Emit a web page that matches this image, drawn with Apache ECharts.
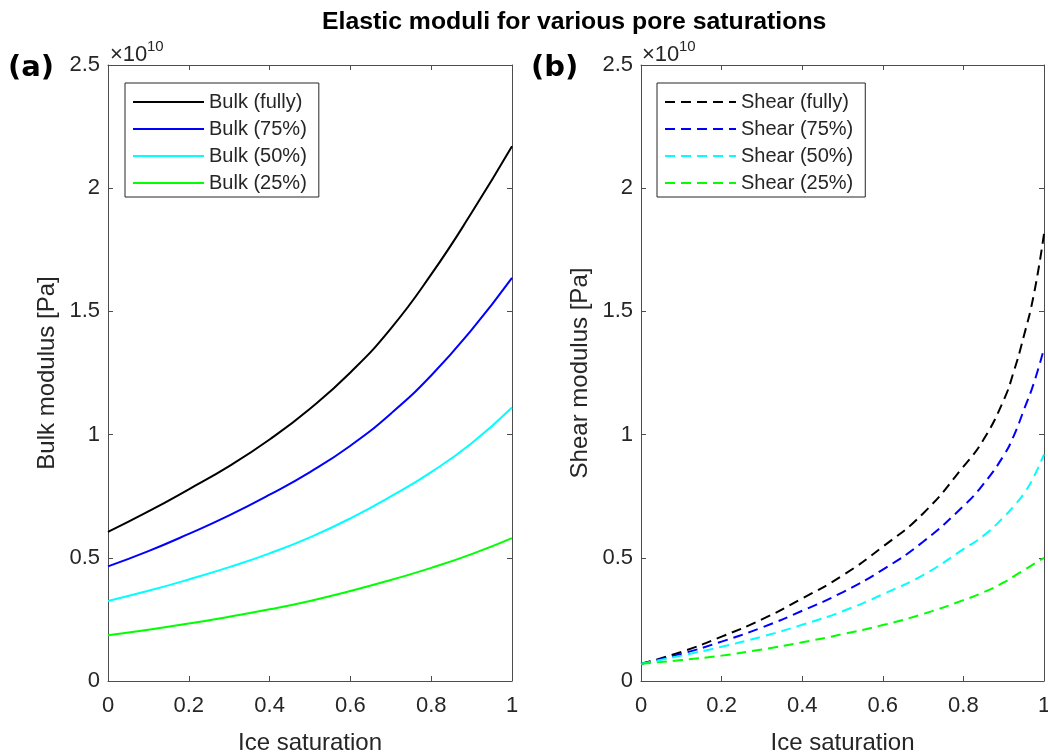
<!DOCTYPE html>
<html>
<head>
<meta charset="utf-8">
<script src="https://cdn.jsdelivr.net/npm/echarts@6/dist/echarts.min.js"></script>
<style>html,body{margin:0;padding:0;background:#fff}#c{width:1048px;height:753px}</style>
</head>
<body>
<div id="c"></div>
<script>
// values in units of 1e10 Pa
const satBulk = [0, 0.1, 0.2, 0.3, 0.4, 0.5, 0.6, 0.7, 0.8, 0.9, 1.0];
const bulkFully = [0.605, 0.688, 0.778, 0.872, 0.980, 1.105, 1.252, 1.43, 1.65, 1.90, 2.17];
const bulk75    = [0.465, 0.527, 0.597, 0.672, 0.756, 0.848, 0.955, 1.085, 1.24, 1.425, 1.636];
const bulk50    = [0.325, 0.366, 0.412, 0.462, 0.518, 0.583, 0.660, 0.749, 0.848, 0.965, 1.11];
const bulk25    = [0.186, 0.208, 0.233, 0.261, 0.291, 0.325, 0.365, 0.410, 0.459, 0.515, 0.58];

const satShear = [0, 0.1, 0.2, 0.3, 0.4, 0.5, 0.6, 0.7, 0.8, 0.85, 0.9, 0.925, 0.95, 0.975, 1.0];
const shearFully = [0.07, 0.118, 0.18, 0.25, 0.335, 0.428, 0.545, 0.68, 0.87, 0.98, 1.14, 1.256, 1.40, 1.57, 1.815];
const shear75    = [0.07, 0.11, 0.16, 0.217, 0.285, 0.36, 0.452, 0.565, 0.71, 0.80, 0.915, 0.995, 1.10, 1.21, 1.35];
const shear50    = [0.07, 0.103, 0.139, 0.18, 0.228, 0.283, 0.352, 0.43, 0.535, 0.59, 0.665, 0.71, 0.76, 0.83, 0.92];
const shear25    = [0.07, 0.085, 0.103, 0.128, 0.157, 0.19, 0.227, 0.272, 0.328, 0.36, 0.40, 0.425, 0.45, 0.475, 0.50];

const bulkNames  = ['Bulk (fully)', 'Bulk (75%)', 'Bulk (50%)', 'Bulk (25%)'];
const shearNames = ['Shear (fully)', 'Shear (75%)', 'Shear (50%)', 'Shear (25%)'];
const colors = ['#000000', '#0000ff', '#00ffff', '#00ff00'];
const SCALE = 1e10;

const FONT = 'Liberation Sans, Arial, sans-serif';
const AX = '#262626';
const LINE = '#4d4d4d';

function pairs(xs, ys) { return xs.map((x, i) => [x, ys[i] * SCALE]); }

const grids = [
  { left: 108, top: 65, width: 404, height: 616, outerBoundsMode: 'none', containLabel: false },
  { left: 641, top: 65, width: 403, height: 616, outerBoundsMode: 'none', containLabel: false }
];

function xAxisMain(gi) {
  return {
    type: 'value', gridIndex: gi, min: 0, max: 1, interval: 0.2, position: 'bottom',
    name: 'Ice saturation', nameLocation: 'middle', nameGap: 50,
    nameTextStyle: { fontFamily: FONT, fontSize: 24, color: AX },
    axisLine: { show: true, onZero: false, lineStyle: { color: LINE, width: 1 } },
    axisTick: { show: true, inside: true, length: 5, lineStyle: { color: LINE } },
    axisLabel: { fontFamily: FONT, fontSize: 22, lineHeight: 22, color: AX, margin: 14,
      formatter: v => String(+v.toFixed(1)) },
    splitLine: { show: false }
  };
}
function xAxisTop(gi) {
  return {
    type: 'value', gridIndex: gi, min: 0, max: 1, interval: 0.2, position: 'top',
    axisLine: { show: true, onZero: false, lineStyle: { color: LINE, width: 1 } },
    axisTick: { show: true, inside: true, length: 5, lineStyle: { color: LINE } },
    axisLabel: { show: false }, splitLine: { show: false }
  };
}
function yAxisMain(gi, name) {
  return {
    type: 'value', gridIndex: gi, min: 0, max: 2.5 * SCALE, interval: 0.5 * SCALE, position: 'left',
    name: name, nameLocation: 'middle', nameGap: 49,
    nameTextStyle: { fontFamily: FONT, fontSize: 24, color: AX },
    axisLine: { show: true, onZero: false, lineStyle: { color: LINE, width: 1 } },
    axisTick: { show: true, inside: true, length: 5, lineStyle: { color: LINE } },
    axisLabel: { fontFamily: FONT, fontSize: 22, color: AX, margin: 8,
      formatter: v => String(+(v / SCALE).toFixed(1)) },
    splitLine: { show: false }
  };
}
function yAxisRight(gi) {
  return {
    type: 'value', gridIndex: gi, min: 0, max: 2.5 * SCALE, interval: 0.5 * SCALE, position: 'right',
    axisLine: { show: true, onZero: false, lineStyle: { color: LINE, width: 1 } },
    axisTick: { show: true, inside: true, length: 5, lineStyle: { color: LINE } },
    axisLabel: { show: false }, splitLine: { show: false }
  };
}

const bulkData = [bulkFully, bulk75, bulk50, bulk25];
const shearData = [shearFully, shear75, shear50, shear25];

const series = [];
bulkData.forEach((d, i) => series.push({
  name: bulkNames[i], type: 'line', xAxisIndex: 0, yAxisIndex: 0,
  data: pairs(satBulk, d), smooth: 0.5, symbol: 'none', silent: true,
  lineStyle: { color: colors[i], width: 2 }, itemStyle: { color: colors[i] }
}));
shearData.forEach((d, i) => series.push({
  name: shearNames[i], type: 'line', xAxisIndex: 2, yAxisIndex: 2,
  data: pairs(satShear, d), smooth: 0.5, symbol: 'none', silent: true,
  lineStyle: { color: colors[i], width: 2, type: [10, 6] }, itemStyle: { color: colors[i] }
}));

function legend(left, names) {
  return {
    data: names, orient: 'vertical', left: left, top: 83,
    itemWidth: 71, itemHeight: 14, itemGap: 7,
    padding: [9, 12, 4, 7],
    borderColor: AX, borderWidth: 1, backgroundColor: '#fff',
    selectedMode: false,
    itemStyle: { opacity: 0 },
    textStyle: { fontFamily: FONT, fontSize: 20, lineHeight: 20, color: AX }
  };
}

function timesTen(x) {
  return [
    { type: 'text', x: x, y: 55, style: { text: '×10', fontFamily: FONT, fontSize: 22, fill: AX, verticalAlign: 'middle', align: 'left' } },
    { type: 'text', x: x + 37, y: 47, style: { text: '10', fontFamily: FONT, fontSize: 15, fill: AX, verticalAlign: 'middle', align: 'left' } }
  ];
}

const option = {
  animation: false,
  backgroundColor: '#fff',
  title: {
    text: 'Elastic moduli for various pore saturations', left: 317, top: 5,
    textStyle: { fontFamily: FONT, fontSize: 24.8, fontWeight: 'bold', color: '#000' }
  },
  grid: grids,
  xAxis: [xAxisMain(0), xAxisTop(0), xAxisMain(1), xAxisTop(1)],
  yAxis: [yAxisMain(0, 'Bulk modulus [Pa]'), yAxisRight(0), yAxisMain(1, 'Shear modulus [Pa]'), yAxisRight(1)],
  legend: [legend(125, bulkNames), legend(657, shearNames)],
  series: series,
  graphic: [
    { type: 'text', x: 8, y: 68, style: { text: '(a)', fontFamily: 'DejaVu Sans', fontWeight: 'bold', fontSize: 29, fill: '#000', verticalAlign: 'middle' } },
    { type: 'text', x: 531, y: 68, style: { text: '(b)', fontFamily: 'DejaVu Sans', fontWeight: 'bold', fontSize: 29, fill: '#000', verticalAlign: 'middle' } }
  ].concat(timesTen(110), timesTen(642))
};

const chart = echarts.init(document.getElementById('c'), null, { renderer: 'canvas' });
chart.setOption(option);
</script>
</body>
</html>
